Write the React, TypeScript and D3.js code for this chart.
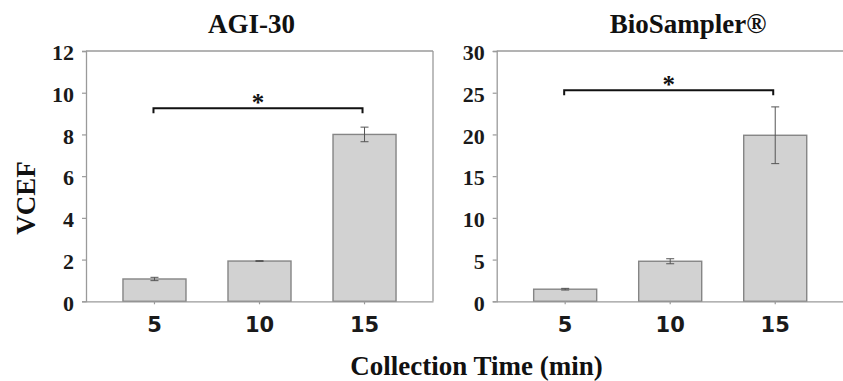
import * as d3 from 'd3';
import { useEffect, useRef } from 'react';

const times = ['5', '10', '15'];
const agiValues = [1.07, 1.93, 8.0];
const agiErrors = [0.08, 0.02, 0.35];
const bioValues = [1.45, 4.8, 19.9];
const bioErrors = [0.1, 0.3, 3.4];
const agiTicks = [0, 2, 4, 6, 8, 10, 12];
const bioTicks = [0, 5, 10, 15, 20, 25, 30];
const panelTitles = ['AGI-30', 'BioSampler®'];
const bracketLevels = [9.26, 25.3];
const bracketPairs = [['5', '15'], ['5', '15']];

const BAR_FILL = '#d2d2d2';
const BAR_STROKE = '#858585';
const AXIS_COLOR = '#9a9a9a';
const ERR_COLOR = '#555555';
const SERIF = '"Liberation Serif", "Times New Roman", serif';
const SANS = '"DejaVu Sans", Verdana, sans-serif';

const App = () => {
    const ref = useRef<any>();

    useEffect(() => {
        const svg = d3.select<any, any>(ref.current);
        svg.selectAll('*').remove();

        const top = 51;
        const bottom = 301.3;

        const panels: any[] = [
            { left: 86, right: 433, values: agiValues, errors: agiErrors, ticks: agiTicks, titleX: 251.5, border: true },
            { left: 496.7, right: 843.7, values: bioValues, errors: bioErrors, ticks: bioTicks, titleX: 688, border: false },
        ];

        panels.forEach((p, i) => {
            const g = svg.append('g');
            const x = d3.scaleBand().domain(times).range([p.left, p.right]).paddingInner(0.4).paddingOuter(0.352);
            const y = d3.scaleLinear().domain([0, d3.max(p.ticks) as number]).range([bottom, top]);

            // frame
            g.append('line').attr('x1', p.left).attr('x2', p.right).attr('y1', top).attr('y2', top)
                .attr('stroke', AXIS_COLOR).attr('stroke-width', 1.3);
            if (p.border) {
                g.append('line').attr('x1', p.right).attr('x2', p.right).attr('y1', top).attr('y2', bottom)
                    .attr('stroke', AXIS_COLOR).attr('stroke-width', 1.3);
            }

            // y axis
            const yAxis = d3.axisLeft(y).tickValues(p.ticks).tickSize(4).tickPadding(8).tickFormat((d: any) => `${d}`);
            const ya = g.append('g').attr('transform', `translate(${p.left},0)`).call(yAxis);
            ya.select('.domain').attr('stroke', AXIS_COLOR).attr('stroke-width', 1.3);
            ya.selectAll('.tick line').attr('stroke', AXIS_COLOR).attr('stroke-width', 1.2);
            ya.selectAll('.tick text')
                .attr('font-family', SERIF).attr('font-weight', 'bold').attr('font-size', 22)
                .attr('fill', '#1a1a1a').attr('dy', '0.4em');

            // bars
            g.selectAll('.bar').data(p.values).join('rect')
                .attr('class', 'bar')
                .attr('x', (d: any, j: number) => x(times[j]) as number)
                .attr('width', x.bandwidth())
                .attr('y', (d: any) => y(d))
                .attr('height', (d: any) => bottom - y(d))
                .attr('fill', BAR_FILL)
                .attr('stroke', BAR_STROKE)
                .attr('stroke-width', 1.4);

            // x axis
            const xAxis = d3.axisBottom(x).tickSize(3).tickPadding(13).tickSizeOuter(0);
            const xa = g.append('g').attr('transform', `translate(0,${bottom})`).call(xAxis);
            xa.select('.domain').attr('stroke', AXIS_COLOR).attr('stroke-width', 1.3);
            xa.selectAll('.tick line').attr('stroke', AXIS_COLOR).attr('stroke-width', 1.2);
            xa.selectAll('.tick text')
                .attr('font-family', SANS).attr('font-weight', 'bold').attr('font-size', 21)
                .attr('fill', '#1a1a1a');

            // error bars
            const eg = g.append('g');
            p.values.forEach((v: number, j: number) => {
                const cx = (x(times[j]) as number) + x.bandwidth() / 2;
                const e = p.errors[j];
                eg.append('line').attr('x1', cx).attr('x2', cx).attr('y1', y(v + e)).attr('y2', y(v - e))
                    .attr('stroke', ERR_COLOR).attr('stroke-width', 1);
                [v + e, v - e].forEach((w) => {
                    eg.append('line').attr('x1', cx - 4).attr('x2', cx + 4).attr('y1', y(w)).attr('y2', y(w))
                        .attr('stroke', ERR_COLOR).attr('stroke-width', 1);
                });
            });

            // significance bracket
            const bx1 = (x(bracketPairs[i][0]) as number) + x.bandwidth() / 2 - 1;
            const bx2 = (x(bracketPairs[i][1]) as number) + x.bandwidth() / 2 - 2;
            const by = y(bracketLevels[i]);
            g.append('path')
                .attr('d', `M${bx1},${by + 5}V${by}H${bx2}V${by + 5}`)
                .attr('fill', 'none').attr('stroke', '#111').attr('stroke-width', 2);
            g.append('text')
                .attr('x', (bx1 + bx2) / 2).attr('y', by + 3)
                .attr('text-anchor', 'middle')
                .attr('font-family', SERIF).attr('font-weight', 'bold').attr('font-size', 25)
                .attr('fill', '#111')
                .text('*');

            // title
            g.append('text')
                .attr('x', p.titleX).attr('y', 33)
                .attr('text-anchor', 'middle')
                .attr('font-family', SERIF).attr('font-weight', 'bold').attr('font-size', 27)
                .attr('fill', '#111')
                .text(panelTitles[i]);
        });

        // shared axis labels
        svg.append('text')
            .attr('x', 476.5).attr('y', 375)
            .attr('text-anchor', 'middle')
            .attr('font-family', SERIF).attr('font-weight', 'bold').attr('font-size', 27)
            .attr('fill', '#111')
            .text('Collection Time (min)');

        svg.append('text')
            .attr('transform', 'translate(35,198) rotate(-90)')
            .attr('text-anchor', 'middle')
            .attr('font-family', SERIF).attr('font-weight', 'bold').attr('font-size', 27)
            .attr('fill', '#111')
            .text('VCEF');
    });

    return (
        <svg ref={ref} width={843} height={381}
            style={{ position: 'absolute', left: 0, top: 0, background: '#fff' }}></svg>
    );
};

export default App;
